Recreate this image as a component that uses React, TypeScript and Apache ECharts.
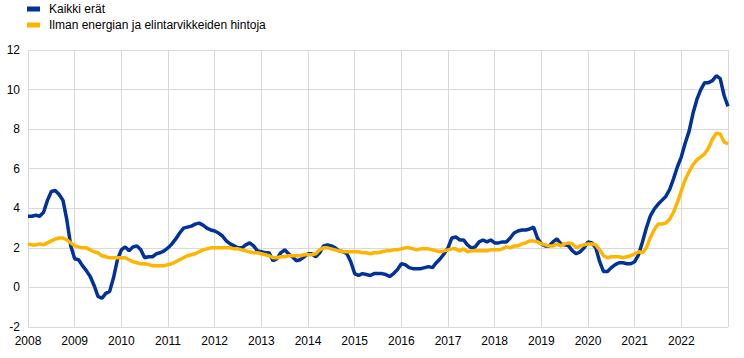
import React, { useEffect, useRef } from "react";
import * as echarts from "echarts";

const seriesNames = ["Kaikki erät", "Ilman energian ja elintarvikkeiden hintoja"];
const seriesColors = ["#003299", "#FFB400"];
const startYear = 2008;
const endYear = 2023;
const yTicks = { min: -2, max: 12, interval: 2 };

// Monthly values, Jan 2008 .. Jan 2023
const allItems = [
  3.6, 3.6, 3.65, 3.6, 3.8, 4.4, 4.85, 4.9, 4.7, 4.4, 3.4, 2.1,
  1.45, 1.4, 1.1, 0.85, 0.55, 0.1, -0.45, -0.55, -0.3, -0.2, 0.5, 1.4,
  1.9, 2.05, 1.85, 2.05, 2.1, 1.9, 1.5, 1.55, 1.55, 1.7, 1.75, 1.85,
  2.0, 2.2, 2.45, 2.75, 3.0, 3.05, 3.1, 3.2, 3.25, 3.15, 3.0, 2.9,
  2.85, 2.75, 2.6, 2.35, 2.2, 2.1, 2.0, 2.0, 2.15, 2.25, 2.1, 1.85,
  1.8, 1.75, 1.75, 1.35, 1.45, 1.75, 1.9, 1.7, 1.55, 1.35, 1.4, 1.55,
  1.7, 1.7, 1.55, 1.75, 2.1, 2.15, 2.1, 2.0, 1.85, 1.8, 1.7, 1.3,
  0.7, 0.6, 0.7, 0.65, 0.6, 0.7, 0.7, 0.7, 0.65, 0.55, 0.7, 0.9,
  1.2, 1.15, 1.0, 0.95, 0.95, 0.95, 1.0, 1.05, 1.0, 1.25, 1.45, 1.7,
  2.0, 2.5, 2.55, 2.4, 2.4, 2.15, 2.0, 2.05, 2.3, 2.4, 2.3, 2.4,
  2.25, 2.25, 2.3, 2.3, 2.5, 2.75, 2.85, 2.9, 2.9, 2.95, 3.05, 2.5,
  2.2, 2.1, 2.1, 2.3, 2.45, 2.2, 2.15, 2.1, 1.85, 1.7, 1.8, 2.0,
  2.3, 2.25, 2.0, 1.3, 0.8, 0.8, 1.0, 1.15, 1.25, 1.25, 1.2, 1.2,
  1.3, 1.65, 2.3, 3.0, 3.6, 3.95, 4.2, 4.4, 4.6, 4.95, 5.5, 6.1,
  6.6, 7.3, 7.9, 8.8, 9.5, 10.0, 10.35, 10.35, 10.45, 10.7, 10.55, 9.7,
  9.15,
];

const exFoodEnergy = [
  2.2, 2.15, 2.15, 2.2, 2.15, 2.25, 2.35, 2.45, 2.5, 2.5, 2.4, 2.25,
  2.1, 2.05, 2.0, 2.0, 1.9, 1.8, 1.75, 1.6, 1.55, 1.5, 1.5, 1.5,
  1.5, 1.5, 1.4, 1.3, 1.25, 1.2, 1.2, 1.15, 1.1, 1.1, 1.1, 1.1,
  1.15, 1.2, 1.3, 1.4, 1.5, 1.6, 1.65, 1.7, 1.8, 1.9, 1.95, 2.0,
  2.0, 2.0, 2.0, 2.0, 2.0, 1.95, 1.95, 1.9, 1.85, 1.8, 1.75, 1.75,
  1.7, 1.65, 1.6, 1.5, 1.5, 1.55, 1.55, 1.6, 1.6, 1.6, 1.6, 1.65,
  1.65, 1.65, 1.7, 1.9, 2.0, 2.0, 1.95, 1.9, 1.85, 1.8, 1.8, 1.8,
  1.8, 1.8, 1.75, 1.75, 1.7, 1.75, 1.75, 1.8, 1.85, 1.85, 1.9, 1.9,
  1.95, 2.0, 2.0, 1.95, 1.9, 1.95, 1.95, 1.95, 1.9, 1.85, 1.8, 1.85,
  1.9, 1.95, 1.95, 1.85, 1.95, 1.8, 1.85, 1.85, 1.85, 1.85, 1.85, 1.9,
  1.9, 1.9, 1.95, 2.05, 2.0, 2.1, 2.1, 2.2, 2.25, 2.35, 2.35, 2.3,
  2.2, 2.15, 2.1, 2.1, 2.2, 2.1, 2.2, 2.25, 2.2, 2.0, 2.1, 2.15,
  2.2, 2.2, 2.15, 1.9, 1.6, 1.5, 1.55, 1.55, 1.55, 1.5, 1.55, 1.6,
  1.7, 1.8, 1.75, 2.0, 2.5, 2.9, 3.2, 3.2, 3.25, 3.45, 3.8, 4.3,
  4.9, 5.45, 5.85, 6.2, 6.45, 6.6, 6.75, 7.05, 7.5, 7.8, 7.75, 7.35,
  7.25,
];

const toPoints = (vals: number[]) => vals.map((v, i) => [startYear + i / 12, v]);

export default function App() {
  const ref = useRef<HTMLDivElement>(null);
  useEffect(() => {
    if (!ref.current) return;
    const chart = echarts.init(ref.current, undefined, { renderer: "svg" });
    const font = "'Liberation Sans', Arial, sans-serif";
    chart.setOption({
      animation: false,
      textStyle: { fontFamily: font },
      legend: {
        orient: "vertical",
        left: 27,
        top: 3,
        padding: 0,
        icon: "rect",
        itemWidth: 13,
        itemHeight: 5,
        itemGap: 4,
        textStyle: { fontSize: 12, color: "#000", fontFamily: font, lineHeight: 12, padding: [0, 0, 0, 4] },
        data: seriesNames,
      },
      grid: { left: 28, right: 16, top: 50, bottom: 31, containLabel: false },
      xAxis: {
        type: "value",
        min: startYear,
        max: endYear,
        interval: 1,
        axisLine: { show: false },
        axisTick: { show: false },
        axisLabel: {
          fontSize: 12,
          color: "#000",
          fontFamily: font,
          margin: 8,
          formatter: (v: number) => (v >= endYear ? "" : String(v)),
        },
        splitLine: { show: true, lineStyle: { color: "#d9d9d9", width: 1 } },
      },
      yAxis: {
        type: "value",
        min: yTicks.min,
        max: yTicks.max,
        interval: yTicks.interval,
        axisLine: { show: false },
        axisTick: { show: false },
        axisLabel: { fontSize: 12, color: "#000", fontFamily: font, margin: 8 },
        splitLine: { show: true, lineStyle: { color: "#d9d9d9", width: 1 } },
      },
      series: [
        {
          name: seriesNames[0],
          type: "line",
          data: toPoints(allItems),
          showSymbol: false,
          lineStyle: { color: seriesColors[0], width: 3.5 },
          itemStyle: { color: seriesColors[0] },
        },
        {
          name: seriesNames[1],
          type: "line",
          data: toPoints(exFoodEnergy),
          showSymbol: false,
          lineStyle: { color: seriesColors[1], width: 3.5 },
          itemStyle: { color: seriesColors[1] },
        },
      ],
    });
    return () => chart.dispose();
  }, []);
  return <div ref={ref} style={{ width: 744, height: 358, position: "absolute", left: 0, top: 0 }} />;
}
